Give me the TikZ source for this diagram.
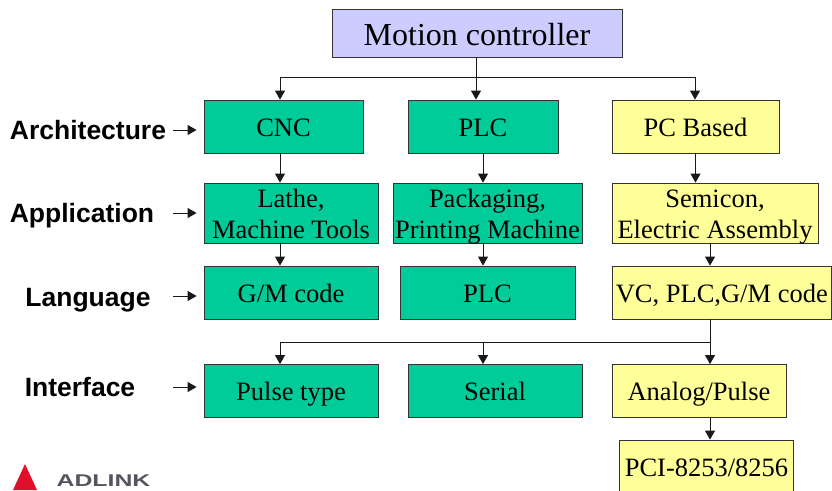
\documentclass[tikz,border=0pt]{standalone}
\usepackage{fontspec}
\setmainfont{Liberation Serif}
\newfontfamily\labelfont{Liberation Sans}
\usetikzlibrary{arrows.meta}
\definecolor{boxgreen}{HTML}{00CC99}
\definecolor{boxyellow}{HTML}{FFFF99}
\definecolor{boxblue}{HTML}{CCCCFF}
\definecolor{logored}{HTML}{E0102A}
\definecolor{logogrey}{HTML}{555560}
\newcommand{\twolines}[2]{\smash{#1}\rule{0pt}{19.5pt}\\\smash{#2}\rule[-0.5pt]{0pt}{0.5pt}}
\tikzset{
    box/.style={draw=black!80,line width=0.8pt,inner sep=0pt,align=center,
        font=\fontsize{26.5}{31}\selectfont},
    greenbox/.style={box,fill=boxgreen},
    yellowbox/.style={box,fill=boxyellow},
    oneline/.style={text height=19pt,text depth=0pt},
    rowlabel/.style={font=\labelfont\bfseries\fontsize{26.5}{30}\selectfont,inner sep=0pt,text depth=0pt},
    arrow/.style={-{Triangle[length=9pt,width=10pt]},line width=0.9pt,black!90}
}
\begin{document}
\begin{tikzpicture}[x=1pt,y=-1pt]
    \useasboundingbox (0,0) rectangle (832,490);
    % Top box
    \node (motion) [box,fill=boxblue,minimum width=290pt,minimum height=48pt,
        text height=24pt,text depth=0pt,font=\fontsize{32}{36}\selectfont] at (477,33) {Motion controller};
    % Architecture row
    \node (cnc) [greenbox,oneline,minimum width=159pt,minimum height=53pt] at (283.5,126.5) {CNC};
    \node (plca) [greenbox,oneline,minimum width=150pt,minimum height=53pt] at (483,126.5) {PLC};
    \node (pc) [yellowbox,oneline,minimum width=167pt,minimum height=53pt] at (695.5,126.5) {PC Based};
    % Application row
    \node (lathe) [greenbox,minimum width=174pt,minimum height=60pt] at (291,213) {\twolines{Lathe,}{Machine Tools}};
    \node (packaging) [greenbox,minimum width=189pt,minimum height=60pt] at (487.5,213) {\twolines{Packaging,}{Printing Machine}};
    \node (semicon) [yellowbox,minimum width=206pt,minimum height=60pt] at (715,213) {\twolines{Semicon,}{Electric Assembly}};
    % Language row
    \node (gmcode) [greenbox,oneline,minimum width=174pt,minimum height=53pt] at (291,292.5) {G/M code};
    \node (plcb) [greenbox,oneline,minimum width=175pt,minimum height=53pt] at (487.5,292.5) {PLC};
    \node (vc) [yellowbox,oneline,minimum width=219.5pt,minimum height=53pt] at (721.8,292.5) {VC, PLC,G/M code};
    % Interface row
    \node (pulse) [greenbox,oneline,minimum width=174pt,minimum height=53pt] at (291,391) {Pulse type};
    \node (serial) [greenbox,oneline,minimum width=174pt,minimum height=53pt] at (495,391) {Serial};
    \node (analog) [yellowbox,oneline,minimum width=174pt,minimum height=53pt] at (699,391) {Analog/Pulse};
    \node (pci) [yellowbox,oneline,minimum width=174pt,minimum height=53pt] at (706.5,466.5) {PCI-8253/8256};
    % Row labels
    \node (archlabel) [rowlabel] at (88,130) {Architecture};
    \node (applabel) [rowlabel] at (82,213) {Application};
    \node (langlabel) [rowlabel] at (88,297) {Language};
    \node (iflabel) [rowlabel] at (80,387) {Interface};
    \coordinate (archtail) at (173,130);
    \coordinate (apptail) at (173,213);
    \coordinate (langtail) at (173,296);
    \coordinate (iftail) at (173,387);
    \foreach \tail/\target in {archtail/cnc,apptail/lathe,langtail/gmcode,iftail/pulse}
        \draw[arrow,shorten >=7pt] (\tail) -- (\tail -| \target.west);
    % Branches under the top box
    \coordinate (upper) at (476,77);
    \coordinate (upperleft) at (280,77);
    \coordinate (upperright) at (695,77);
    \draw[arrow] (motion.south -| upper) -- (plca.north -| upper);
    \draw[arrow] (upper) -- (upperleft) -- (cnc.north -| upperleft);
    \draw[arrow] (upper) -- (upperright) -- (pc.north -| upperright);
    % Columns
    \draw[arrow] (cnc.south -| upperleft) -- (lathe.north -| upperleft);
    \draw[arrow] (lathe.south -| upperleft) -- (gmcode.north -| upperleft);
    \draw[arrow] (plca.south) -- (plca.south |- packaging.north);
    \draw[arrow] (plca.south |- packaging.south) -- (plca.south |- plcb.north);
    \draw[arrow] (pc.south) -- (pc.south |- semicon.north);
    % Branches under the VC box
    \coordinate (lower) at (710,342);
    \coordinate (lowerleft) at (280,342);
    \coordinate (lowermid) at (483,342);
    \draw[arrow] (semicon.south -| lower) -- (vc.north -| lower);
    \draw[arrow] (vc.south -| lower) -- (analog.north -| lower);
    \draw[arrow] (lower) -- (lowerleft) -- (pulse.north -| lowerleft);
    \draw[arrow] (lowermid) -- (serial.north -| lowermid);
    \draw[arrow] (analog.south -| lower) -- (pci.north -| lower);
    % Logo
    \fill[logored] (25,464) -- (37,490) -- (13,490) -- cycle;
    \node (logo) [text=logogrey,inner sep=0pt,xscale=1.46,
        font=\labelfont\bfseries\fontsize{17}{17}\selectfont] at (103.5,481) {ADLINK};
\end{tikzpicture}
\end{document}
